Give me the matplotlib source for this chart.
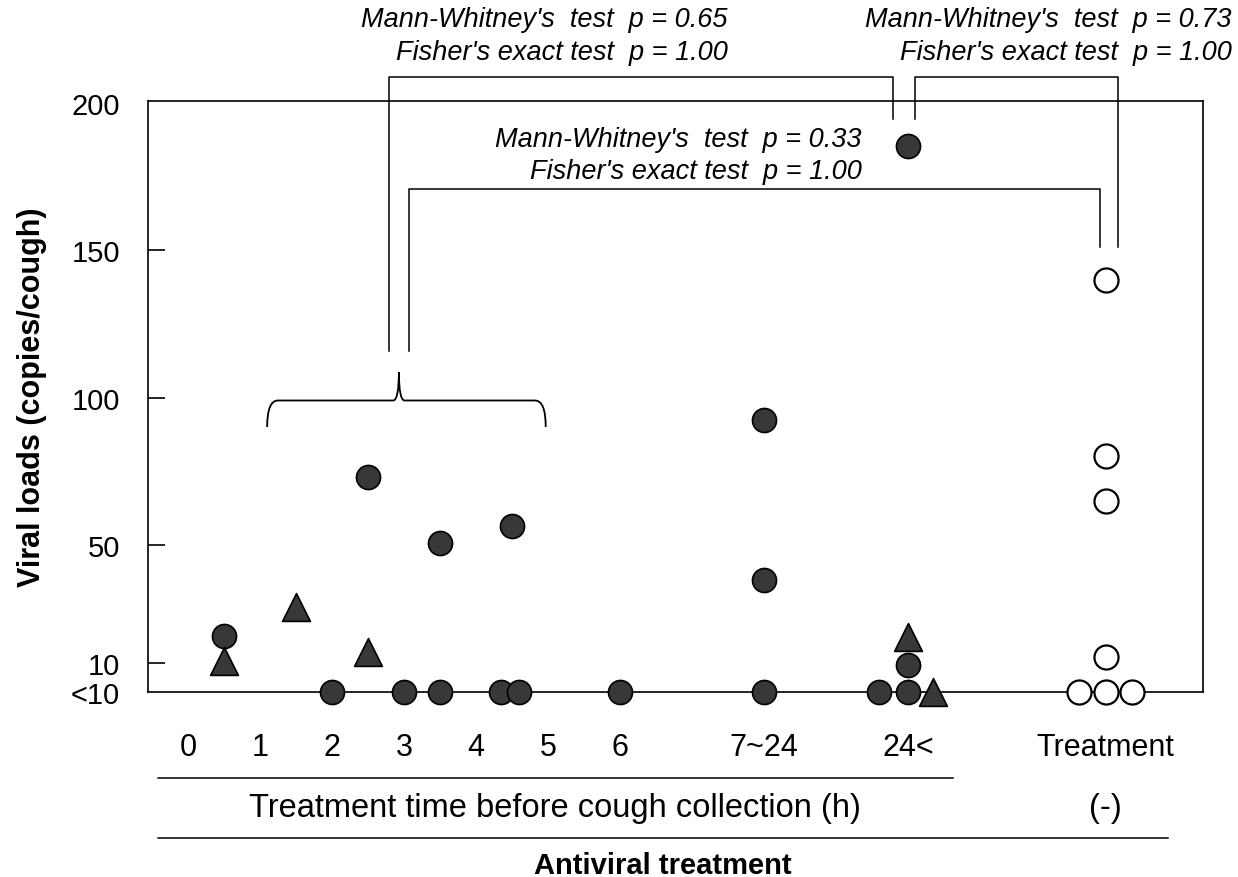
import matplotlib
matplotlib.use("Agg")
from matplotlib import pyplot as plt
from matplotlib.path import Path
from matplotlib.patches import PathPatch

plt.rcParams['font.family'] = ['Liberation Sans', 'DejaVu Sans']

# positions along the x axis (hour units, 7~24 -> 8, 24< -> 10, no treatment -> 12.75)
treated_circle_x = [0.5, 2.0, 2.5, 3.0, 3.5, 3.5, 4.35, 4.6, 4.5, 6.0, 8.0, 8.0, 8.0, 9.6, 10.0, 10.0, 10.0]
treated_circle_y = [19, 0, 73, 0, 0, 50.5, 0, 0, 56.5, 0, 92.5, 38, 0, 0, 0, 9.3, 185.5]

treated_tri_x = [0.5, 1.5, 2.5, 10.0, 10.35]
treated_tri_y = [10.5, 28.7, 13.7, 18.8, 0]

untreated_x = [12.75, 12.75, 12.75, 12.75, 12.38, 12.75, 13.12]
untreated_y = [140, 80, 65, 12, 0, 0, 0]

ytick_pos = [0, 10, 50, 100, 150, 200]
ytick_labels = ['<10', '10', '50', '100', '150', '200']
xlabel_pos = [0, 1, 2, 3, 4, 5, 6, 8, 10, 12.75]
xlabel_text = ['0', '1', '2', '3', '4', '5', '6', '7~24', '24<', 'Treatment']
hour_ticks = [0, 1, 2, 3, 4, 5, 6]

fig = plt.figure(figsize=(12.38, 8.78), dpi=100)
ax = fig.add_axes([0.1195, 0.2107, 0.8522, 0.6731])

ax.scatter(treated_circle_x, treated_circle_y, s=300, c='#383838', edgecolors='black', linewidths=1.2, clip_on=False, zorder=3)
ax.scatter(treated_tri_x, treated_tri_y, s=400, marker='^', c='#383838', edgecolors='black', linewidths=1.2, clip_on=False, zorder=3)
ax.scatter(untreated_x, untreated_y, s=300, c='white', edgecolors='black', linewidths=1.6, clip_on=False, zorder=3)

ax.set_xlim(-0.556, 14.1)
ax.set_ylim(0, 200.7)
for sp in ax.spines.values():
    sp.set_linewidth(1.2)

ax.set_yticks(ytick_pos)
ax.set_yticklabels(ytick_labels, fontsize=21)
ax.tick_params(axis='y', direction='in', length=12, width=1.2, pad=20)
# no tick mark at the top / bottom labels
ax.yaxis.get_major_ticks()[-1].tick1line.set_visible(False)
ax.yaxis.get_major_ticks()[0].tick1line.set_visible(False)

ax.set_xticks(xlabel_pos)
ax.set_xticklabels(xlabel_text, fontsize=22)
ax.set_xticks(hour_ticks, minor=True)
ax.tick_params(axis='x', which='major', length=0, pad=29)
ax.tick_params(axis='x', which='minor', direction='in', length=14, width=1.2)

ax.set_ylabel('Viral loads (copies/cough)', fontsize=22, fontweight='bold')
ax.yaxis.set_label_coords(-0.096, 0.5)

# brace over the 1-5 h group
verts = [(1.1, 90), (1.1, 99), (1.25, 99), (2.85, 99), (2.93, 99), (2.93, 108.6),
         (2.93, 99), (3.01, 99), (4.82, 99), (4.97, 99), (4.97, 90)]
codes = [Path.MOVETO, Path.CURVE3, Path.CURVE3, Path.LINETO, Path.CURVE3, Path.CURVE3,
         Path.CURVE3, Path.CURVE3, Path.LINETO, Path.CURVE3, Path.CURVE3]
ax.add_patch(PathPatch(Path(verts, codes), fill=False, lw=1.3, color='black', clip_on=False))

# comparison brackets
kw = dict(color='black', lw=1.1, clip_on=False)
ax.plot([2.79, 2.79, 9.79, 9.79], [115.7, 208.8, 208.8, 194.6], **kw)
ax.plot([10.1, 10.1, 12.92, 12.92], [194.6, 208.8, 208.8, 151], **kw)
ax.plot([3.07, 3.07, 12.67, 12.67], [115.7, 170.8, 170.8, 151], **kw)

tkw = dict(fontsize=19.5, style='italic', ha='right', va='center', clip_on=False)
ax.text(7.5, 228.4, "Mann-Whitney's  test  p = 0.65", **tkw)
ax.text(7.5, 217.5, "Fisher's exact test  p = 1.00", **tkw)
ax.text(14.5, 228.4, "Mann-Whitney's  test  p = 0.73", **tkw)
ax.text(14.5, 217.5, "Fisher's exact test  p = 1.00", **tkw)
ax.text(9.36, 187.8, "Mann-Whitney's  test  p = 0.33", **tkw)
ax.text(9.36, 176.9, "Fisher's exact test  p = 1.00", **tkw)

# group labels under the axis
ax.plot([-0.417, 10.625], [-29.1, -29.1], **kw)
ax.plot([-0.417, 13.61], [-49.5, -49.5], **kw)
ax.text(5.1, -39.2, 'Treatment time before cough collection (h)', fontsize=23.5, ha='center', va='center')
ax.text(12.75, -39.2, '(-)', fontsize=23.5, ha='center', va='center')
ax.text(6.6, -58.6, 'Antiviral treatment', fontsize=21, fontweight='bold', ha='center', va='center')

plt.savefig('out.png', dpi=100)
